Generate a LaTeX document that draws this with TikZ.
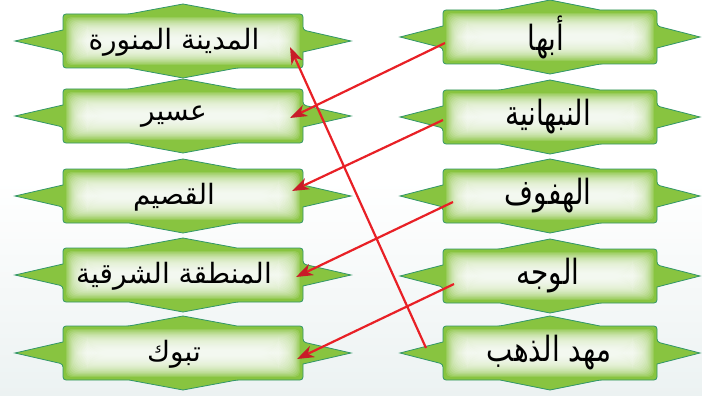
\documentclass[tikz,border=0pt]{standalone}
\usepackage{fontspec}
\TeXXeTstate=1
\newfontfamily\arabicfont[Script=Arabic]{DejaVu Sans}
\usetikzlibrary{calc,arrows.meta}
\definecolor{gfill}{RGB}{136,196,64}
\definecolor{gline}{RGB}{50,150,105}
\definecolor{arrred}{RGB}{232,32,38}
\definecolor{arrdark}{RGB}{200,28,40}
\definecolor{bgbot}{RGB}{236,242,242}
\tikzset{
  gborder/.style={draw=gline, line width=0.8pt},
  ltext/.style={inner sep=0pt, font=\arabicfont\fontsize{28}{32}\selectfont},
  rtext/.style={inner sep=0pt, xscale=0.9, yscale=1.12, transform shape, font=\arabicfont\fontsize{31}{36}\selectfont},
  link/.style={draw=arrred, line width=2.2pt, -{Stealth[length=17pt,width=12pt,inset=5pt,color=arrdark]}}
}
% #1 name, #2 cx, #3 cy, #4 half width a, #5 side extension e, #6 top half-base t
\newcommand{\gbox}[6]{%
  \begin{scope}[shift={(#2,#3)}]
    \def\gshape{(-#4,-20) [rounded corners=3pt] -- (-#4,-27) -- (-#6,-27) [sharp corners] -- (0,-37) -- (#6,-27) [rounded corners=3pt] -- (#4,-27) -- (#4,-11) [sharp corners] -- ({#4+#5},0) -- (#4,11) [rounded corners=3pt] -- (#4,27) -- (#6,27) [sharp corners] -- (0,37) -- (-#6,27) [rounded corners=3pt] -- (-#4,27) -- (-#4,11) [sharp corners] -- ({-#4-#5},0) -- (-#4,-11) -- cycle}
    \fill[gfill] \gshape;
    \foreach \k in {1,...,20}{%
      \pgfmathsetmacro\dd{2+\k*1.1}%
      \pgfmathsetmacro\rr{4+\k*0.9}%
      \fill[white, opacity=0.13, rounded corners=\rr pt] ({-#4+\dd},{-27+\dd}) rectangle ({#4-\dd},{27-\dd});
    }
    \draw[gborder] \gshape;
    \coordinate (#1) at (0,0);
  \end{scope}}
\begin{document}
\begin{tikzpicture}[x=1pt,y=-1pt]
\useasboundingbox (0,0) rectangle (702,396);
\fill[white] (0,0) rectangle (702,396);
\shade[top color=white, bottom color=bgbot] (0,180) rectangle (702,396);
% left boxes
\gbox{L1}{183}{41}{120}{48}{54}
\gbox{L2}{183}{116}{120}{48}{54}
\gbox{L3}{183}{196}{120}{48}{54}
\gbox{L4}{183}{275}{120}{48}{54}
\gbox{L5}{183}{353}{120}{48}{54}
% right boxes
\gbox{R1}{550}{37}{107}{43}{50}
\gbox{R2}{550}{117}{107}{43}{50}
\gbox{R3}{550}{196}{107}{43}{50}
\gbox{R4}{550}{276}{107}{43}{50}
\gbox{R5}{550}{353}{107}{43}{50}
% texts
\node[ltext] (L1t) at ($(L1)+(-9,1)$) {\beginR المدينة المنورة\endR};
\node[ltext] (L2t) at ($(L2)+(-9,1)$) {\beginR عسير\endR};
\node[ltext] (L3t) at ($(L3)+(-9,1)$) {\beginR القصيم\endR};
\node[ltext] (L4t) at ($(L4)+(-9,1)$) {\beginR المنطقة الشرقية\endR};
\node[ltext] (L5t) at ($(L5)+(-9,1)$) {\beginR تبوك\endR};
\node[rtext] (R1t) at ($(R1)+(-4,0)$) {\beginR أبها\endR};
\node[rtext] (R2t) at ($(R2)+(-2,0)$) {\beginR النبهانية\endR};
\node[rtext] (R3t) at ($(R3)+(-2,0)$) {\beginR الهفوف\endR};
\node[rtext] (R4t) at ($(R4)+(-2,0)$) {\beginR الوجه\endR};
\node[rtext] (R5t) at ($(R5)+(-1,0)$) {\beginR مهد الذهب\endR};
% connectors
\draw[link] ($(R1)+(-105,6)$) -- ($(L2)+(107,2)$);
\draw[link] ($(R2)+(-107,3)$) -- ($(L3)+(109,-5)$);
\draw[link] ($(R3)+(-97,6)$) -- ($(L4)+(113,2)$);
\draw[link] ($(R4)+(-96,8)$) -- ($(L5)+(114,6)$);
\draw[link] ($(R5)+(-124,-5)$) -- ($(L1)+(107,6)$);
\end{tikzpicture}
\end{document}
